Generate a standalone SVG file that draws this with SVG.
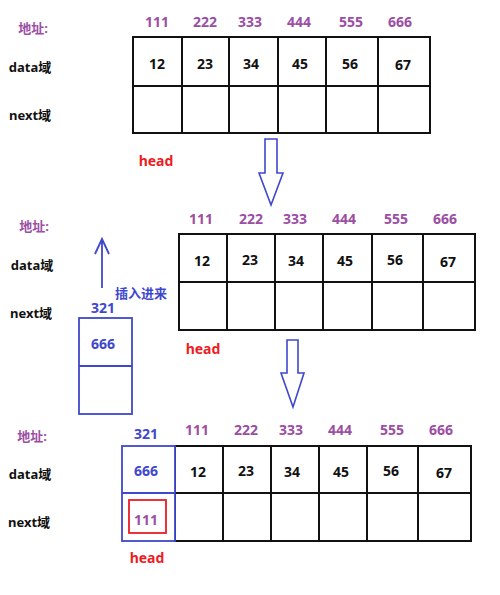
<svg xmlns="http://www.w3.org/2000/svg" width="500" height="595" viewBox="0 0 500 595">
<style>
text{font-family:"Noto Sans","Noto Sans CJK SC",sans-serif;font-weight:bold;text-anchor:middle;dominant-baseline:central}
.lbl{font-size:13px;fill:#111}
.addr{font-size:14px;fill:#9b4ea3}
.val{font-size:14px;fill:#111}
.blue{fill:#3f48cc}
.red{fill:#ed1c24}
.cell{fill:#fff;stroke:#111;stroke-width:2}
.bcell{fill:#fff;stroke:#3f48cc;stroke-width:1.8}
.hollow{fill:#fff;stroke:#3f48cc;stroke-width:1.6;stroke-linejoin:miter}
</style>
<rect width="500" height="595" fill="#fff"/>

<g id="list1">
<text class="lbl" x="33" y="28" style="fill:#9b4ea3">地址:</text>
<text class="lbl" x="30" y="67">data域</text>
<text class="lbl" x="30" y="115">next域</text>
<g class="addr-row">
<text class="addr" x="157" y="21">111</text>
<text class="addr" x="205" y="21">222</text>
<text class="addr" x="250" y="21">333</text>
<text class="addr" x="299" y="21">444</text>
<text class="addr" x="351" y="21">555</text>
<text class="addr" x="400" y="21">666</text>
</g>
<rect class="cell" x="133" y="37" width="297" height="96"/>
<path d="M133 86H430M182 37V133M229 37V133M278 37V133M326 37V133M378 37V133" stroke="#111" stroke-width="2" fill="none"/>
<text class="val" x="157" y="63">12</text>
<text class="val" x="205" y="63">23</text>
<text class="val" x="251" y="63">34</text>
<text class="val" x="300" y="63">45</text>
<text class="val" x="350" y="63">56</text>
<text class="val" x="403" y="64">67</text>
<text class="red" x="156" y="160" style="font-size:14px">head</text>
</g>

<g id="list2">
<text class="lbl" x="34" y="226" style="fill:#9b4ea3">地址:</text>
<text class="lbl" x="32" y="265">data域</text>
<text class="lbl" x="31" y="313">next域</text>
<text class="addr" x="201" y="218">111</text>
<text class="addr" x="251" y="218">222</text>
<text class="addr" x="295" y="218">333</text>
<text class="addr" x="344" y="218">444</text>
<text class="addr" x="396" y="218">555</text>
<text class="addr" x="445" y="218">666</text>
<rect class="cell" x="179" y="234" width="296" height="96"/>
<path d="M179 282H475M227 234V330M275 234V330M323 234V330M372 234V330M423 234V330" stroke="#111" stroke-width="2" fill="none"/>
<text class="val" x="202" y="260">12</text>
<text class="val" x="250" y="259">23</text>
<text class="val" x="296" y="260">34</text>
<text class="val" x="345" y="260">45</text>
<text class="val" x="395" y="259">56</text>
<text class="val" x="448" y="261">67</text>
<text class="red" x="203" y="348" style="font-size:14px">head</text>
</g>

<g id="newnode">
<text class="blue" x="103" y="307" style="font-size:14px">321</text>
<rect class="bcell" x="79" y="318" width="53" height="96"/>
<path d="M79 366H132" stroke="#3f48cc" stroke-width="1.8"/>
<text class="blue" x="103" y="343" style="font-size:14px">666</text>
<text class="blue" x="141" y="293" style="font-size:13px">插入进来</text>
</g>

<g id="list3">
<text class="lbl" x="32" y="436" style="fill:#9b4ea3">地址:</text>
<text class="lbl" x="30" y="474">data域</text>
<text class="lbl" x="29" y="522">next域</text>
<text class="blue" x="146" y="433" style="font-size:14px">321</text>
<text class="addr" x="197" y="429">111</text>
<text class="addr" x="246" y="429">222</text>
<text class="addr" x="291" y="429">333</text>
<text class="addr" x="340" y="429">444</text>
<text class="addr" x="392" y="429">555</text>
<text class="addr" x="441" y="429">666</text>
<rect class="cell" x="175" y="446" width="296" height="95"/>
<path d="M175 493H471M223 446V541M271 446V541M319 446V541M367 446V541M418 446V541" stroke="#111" stroke-width="2" fill="none"/>
<rect class="bcell" x="122" y="446" width="53" height="95" fill="none"/>
<path d="M122 493H175" stroke="#3f48cc" stroke-width="1.8"/>
<text class="blue" x="146" y="470" style="font-size:14px">666</text>
<text class="val" x="198" y="471">12</text>
<text class="val" x="246" y="470">23</text>
<text class="val" x="292" y="471">34</text>
<text class="val" x="341" y="471">45</text>
<text class="val" x="391" y="470">56</text>
<text class="val" x="444" y="472">67</text>
<rect x="129" y="500" width="37" height="33" fill="none" stroke="#ed1c24" stroke-width="1.8"/>
<text class="addr" x="146" y="519">111</text>
<text class="red" x="147" y="557" style="font-size:14px">head</text>
</g>

<g id="connectors">
<path class="hollow" d="M265 139H277V173H283L271 205L259 173H265Z"/>
<path class="hollow" d="M287 340H298V373H304L293 407L281 373H287Z"/>
<path d="M102 288V239M95 254L102 239L109 254" fill="none" stroke="#3f48cc" stroke-width="1.8"/>
</g>
</svg>
